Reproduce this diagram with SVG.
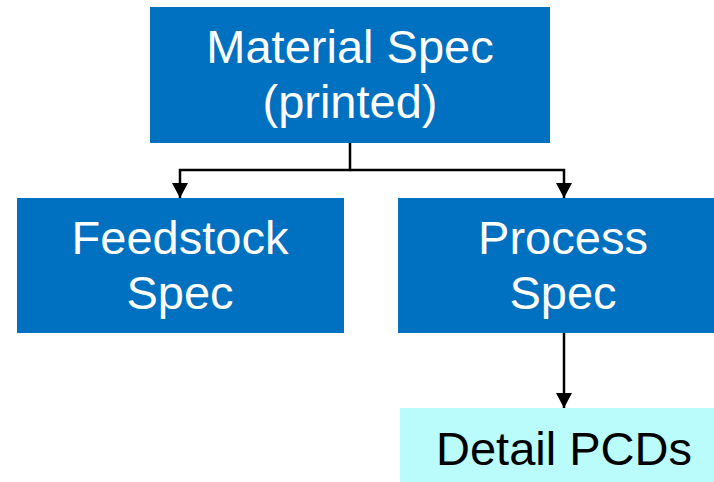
<svg xmlns="http://www.w3.org/2000/svg" width="714" height="482" viewBox="0 0 714 482">
  <style>
    .box { fill: #0070C0; }
    .leaf { fill: #BAFCFC; }
    .lbl { font-family: "Liberation Sans", Arial, sans-serif; font-size: 47px; text-anchor: middle; fill: #FFFFFF; }
    .dark { fill: #000000; }
    .wire { fill: none; stroke: #000000; stroke-width: 2.5; }
  </style>
  <defs>
    <marker id="down" viewBox="0 0 16 15" refX="8" refY="15" markerWidth="16" markerHeight="15" markerUnits="userSpaceOnUse" orient="0">
      <path d="M0,0 L16,0 L8,15 Z" fill="#000000"/>
    </marker>
  </defs>

  <rect width="714" height="482" fill="#FFFFFF"/>

  <g id="connectors">
    <path class="wire" d="M350,143 V170 H180 V198" marker-end="url(#down)"/>
    <path class="wire" d="M350,170 H564 V198" marker-end="url(#down)"/>
    <path class="wire" d="M564,333 V408" marker-end="url(#down)"/>
  </g>

  <g id="material-spec">
    <rect class="box" x="150" y="7" width="400" height="136"/>
    <text class="lbl" x="350" y="63">Material Spec</text>
    <text class="lbl" x="350" y="118">(printed)</text>
  </g>

  <g id="feedstock-spec">
    <rect class="box" x="17" y="198" width="327" height="135"/>
    <text class="lbl" x="180" y="254">Feedstock</text>
    <text class="lbl" x="180" y="309">Spec</text>
  </g>

  <g id="process-spec">
    <rect class="box" x="398" y="198" width="316" height="135"/>
    <text class="lbl" x="563" y="254">Process</text>
    <text class="lbl" x="563" y="309">Spec</text>
  </g>

  <g id="detail-pcds">
    <rect class="leaf" x="400" y="408" width="314" height="74"/>
    <text class="lbl dark" x="564" y="465">Detail PCDs</text>
  </g>
</svg>
